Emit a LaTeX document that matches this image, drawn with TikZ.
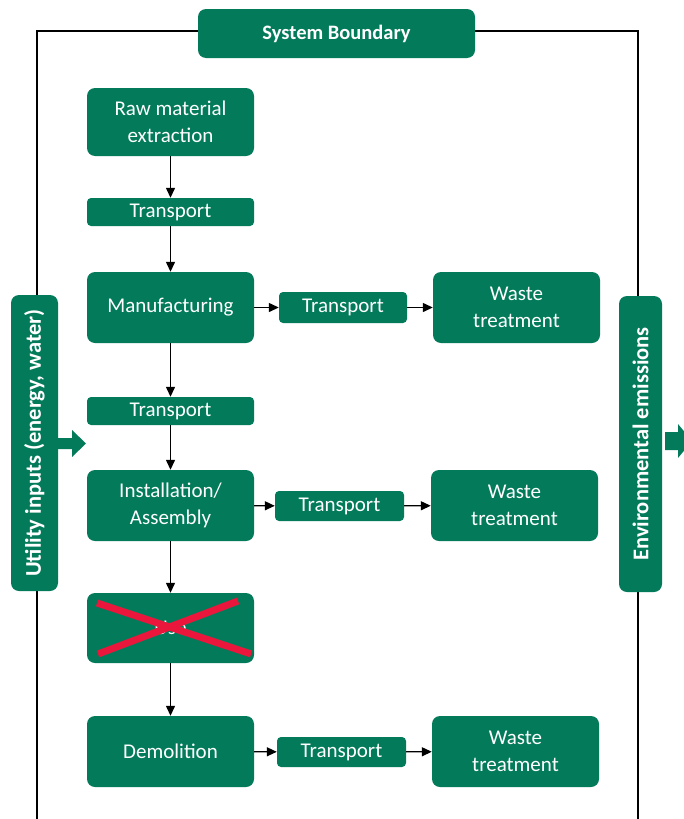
\documentclass[tikz,border=0pt]{standalone}
\usepackage{fontspec}
\setmainfont{Carlito}
\usetikzlibrary{arrows.meta}
\definecolor{lcagreen}{RGB}{3,123,90}
\definecolor{crossred}{RGB}{235,22,60}
\tikzset{
  gbox/.style={fill=lcagreen, draw=none, rounded corners=8pt, text=white, align=center, inner sep=0pt, font=\fontsize{21}{27}\selectfont},
  tbox/.style={gbox, rounded corners=4pt},
  flow/.style={-{Triangle[length=10pt,width=9pt]}, line width=1.3pt},
  boundary/.style={line width=1.4pt},
  blockarrow/.style={fill=lcagreen, draw=none},
  crossline/.style={draw=crossred, line width=7pt},
  vlabel/.style={rotate=90, text=white, font=\bfseries\fontsize{22.5}{26}\selectfont},
}
\begin{document}
\begin{tikzpicture}[x=1pt,y=-1pt]
\useasboundingbox (0,0) rectangle (684,819);
% boundary
\draw[boundary] (37,819) -- (37,31) -- (638,31) -- (638,819);
% nodes
\node[gbox, minimum width=277pt, minimum height=49pt, font=\bfseries\fontsize{20.5}{24}\selectfont] (sb) at (336.5,33.5) {System Boundary};
\node[gbox, minimum width=167pt, minimum height=68pt] (raw) at (170.5,122) {Raw material\\extraction};
\node[tbox, minimum width=167pt, minimum height=28pt] (t1) at (170.5,212) {Transport};
\node[gbox, minimum width=167pt, minimum height=71pt] (manu) at (170.5,307.5) {Manufacturing};
\node[tbox, minimum width=128pt, minimum height=31pt] (tm) at (343,307.5) {Transport};
\node[gbox, minimum width=167pt, minimum height=71pt] (w1) at (516.5,307.5) {Waste\\treatment};
\node[tbox, minimum width=167pt, minimum height=28pt] (t2) at (170.5,411) {Transport};
\node[gbox, minimum width=167pt, minimum height=71pt] (inst) at (170.5,505.5) {Installation/\\Assembly};
\node[tbox, minimum width=129pt, minimum height=30pt] (ti) at (339.5,506) {Transport};
\node[gbox, minimum width=167pt, minimum height=71pt] (w2) at (514.5,505.5) {Waste\\treatment};
\node[gbox, minimum width=167pt, minimum height=70pt] (use) at (170.5,628) {Use};
\node[gbox, minimum width=167pt, minimum height=71pt] (demo) at (170.5,751.5) {Demolition};
\node[tbox, minimum width=129pt, minimum height=30pt] (td) at (341.5,752) {Transport};
\node[gbox, minimum width=167pt, minimum height=71pt] (w3) at (515.5,751.5) {Waste\\treatment};
\node[gbox, minimum width=47pt, minimum height=296pt] (util) at (34.5,443) {};
\node[vlabel] (utilt) at (util.center) {Utility inputs (energy, water)};
\node[gbox, minimum width=43pt, minimum height=296pt] (env) at (640.5,444) {};
\node[vlabel] (envt) at (env.center) {Environmental emissions};
% cross
\draw[crossline] (97,603) -- (251,654);
\draw[crossline] (238,601) -- (98,654);
% flows
\draw[flow] (raw) -- (t1);
\draw[flow] (t1) -- (manu);
\draw[flow] (manu) -- (t2);
\draw[flow] (t2) -- (inst);
\draw[flow] (inst) -- (use);
\draw[flow] (use) -- (demo);
\draw[flow] (manu) -- (tm);
\draw[flow] (tm) -- (w1);
\draw[flow] (inst) -- (ti);
\draw[flow] (ti) -- (w2);
\draw[flow] (demo) -- (td);
\draw[flow] (td) -- (w3);
% block arrows
\fill[blockarrow] (util.east |- 0,438) -- (72,438) -- (72,430) -- (86,443.5) -- (72,457) -- (72,449) -- (util.east |- 0,449) -- cycle;
\fill[blockarrow] (665,432) -- (678,432) -- (678,424) -- (692,441) -- (678,458) -- (678,450) -- (665,450) -- cycle;
\end{tikzpicture}
\end{document}
